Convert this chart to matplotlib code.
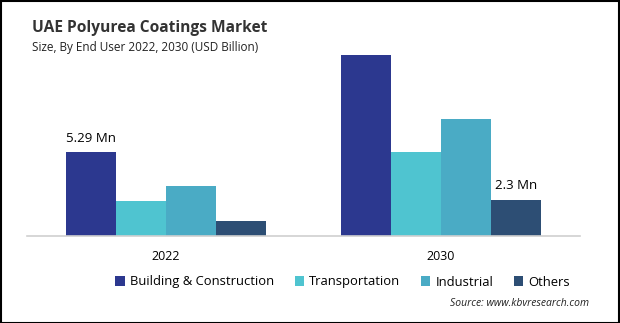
import matplotlib
matplotlib.use("Agg")
import matplotlib.pyplot as plt
from matplotlib.patches import Patch, Rectangle
import numpy as np

plt.rcParams['font.family'] = ['Open Sans', 'DejaVu Sans']

years = ['2022', '2030']
segments = ['Building & Construction', 'Transportation', 'Industrial', 'Others']
building = [5.29, 11.44]
transportation = [2.21, 5.29]
industrial = [3.16, 7.42]
others = [0.97, 2.30]
colors = ['#2c388f', '#4fc4d0', '#4aabc5', '#2d4e74']

series = [building, transportation, industrial, others]

fig = plt.figure(figsize=(6.2, 3.23), dpi=100)
ax = fig.add_axes([27 / 620, 1 - 236 / 323, (580 - 27) / 620, (236 - 46) / 323])

x = np.arange(len(years))
w = 0.1818
for i, (vals, c) in enumerate(zip(series, colors)):
    ax.bar(x + (i - 1.5) * w, vals, width=w, color=c, label=segments[i])

# value labels
ax.text(x[0] - 1.5 * w, building[0] + 0.45, '5.29 Mn', ha='center', va='bottom', fontsize=9.5)
ax.text(x[1] + 1.5 * w, others[1] + 0.45, '2.3 Mn', ha='center', va='bottom', fontsize=9.5)

ax.set_xlim(-0.505, 1.505)
ax.set_ylim(0, 12)
ax.set_xticks(x)
ax.set_xticklabels(years, fontsize=9)
ax.tick_params(axis='x', length=0, pad=10)
ax.set_yticks([])
for s in ['top', 'right', 'left']:
    ax.spines[s].set_visible(False)
ax.spines['bottom'].set_color('#d0d0d0')
ax.spines['bottom'].set_linewidth(1.2)

fig.text(32 / 620, 1 - 28 / 323, 'UAE Polyurea Coatings Market', fontsize=11.2,
         fontweight='bold', color='#333333', va='center')
fig.text(32 / 620, 1 - 48 / 323, 'Size, By End User 2022, 2030 (USD Billion)', fontsize=8.5,
         color='#222222', va='center')

handles = [Patch(facecolor=c) for c in colors]
fig.legend(handles, segments, loc='center', bbox_to_anchor=(0.553, 1 - 282 / 323), ncol=4,
           frameon=False, fontsize=9.4, handlelength=0.7, handleheight=0.7,
           handletextpad=0.4, columnspacing=1.6)

fig.text(589 / 620, 1 - 304 / 323, 'Source: www.kbvresearch.com', fontsize=7.5,
         style='italic', ha='right', va='center', color='#222222')

fig.patches.append(Rectangle((0.5 / 620, 0.5 / 323), 618 / 620, 321.5 / 323,
                             transform=fig.transFigure, fill=False, edgecolor='black', linewidth=1.5))

fig.savefig('out.png', dpi=100)
